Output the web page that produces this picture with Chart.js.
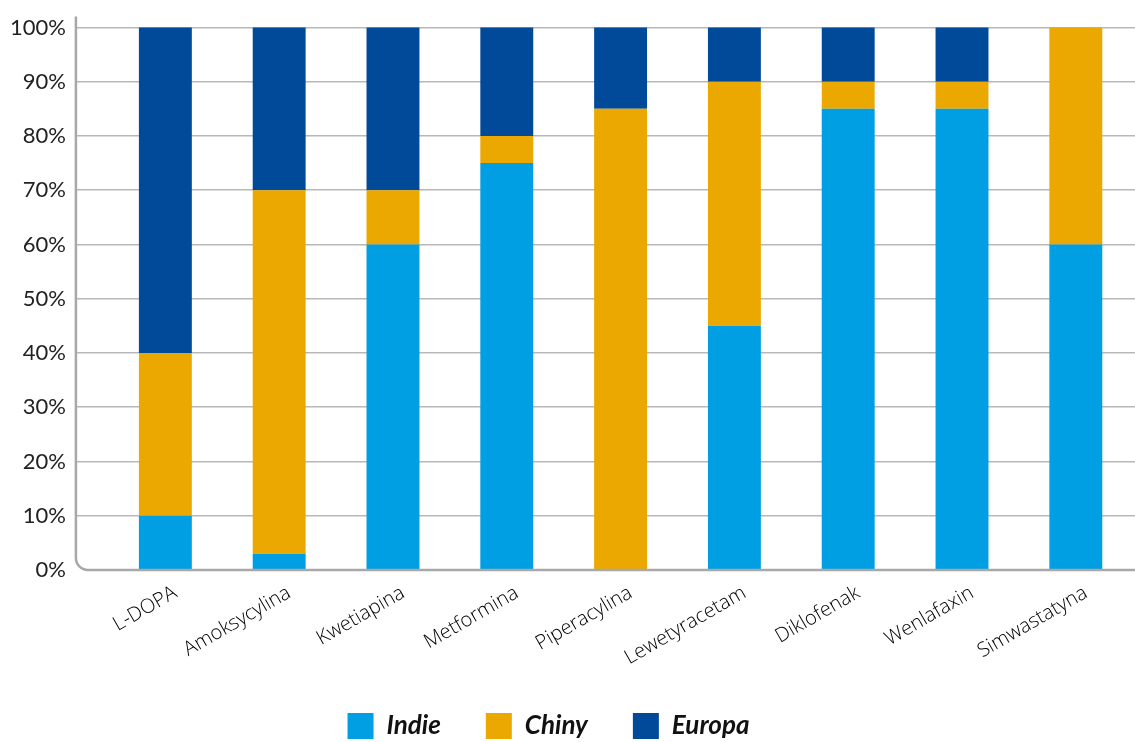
<!DOCTYPE html>
<html>
<head>
<meta charset="utf-8">
<script src="https://cdn.jsdelivr.net/npm/chart.js@4"></script>
<style>
  html, body { margin: 0; padding: 0; background: #fff; }
  #wrap { width: 1135px; height: 742px; }
</style>
</head>
<body>
<div id="wrap"><canvas id="c" width="1135" height="742"></canvas></div>
<script>
// kategorie (substancje)
const categories = [
  "L-DOPA", "Amoksycylina", "Kwetiapina", "Metformina", "Piperacylina",
  "Lewetyracetam", "Diklofenak", "Wenlafaxin", "Simwastatyna",
];

// udział (%) wg regionu
const indie  = [10, 3, 60, 75, 0, 45, 85, 85, 60];
const chiny  = [30, 67, 10, 5, 85, 45, 5, 5, 40];
const europa = [60, 30, 30, 20, 15, 10, 10, 10, 0];

const seriesNames = ["Indie", "Chiny", "Europa"];
const yTicks = [0, 10, 20, 30, 40, 50, 60, 70, 80, 90, 100];

const colors = ["#009fe3", "#eaa800", "#004a99"];

const toPoints = (arr) => arr.map((v, i) => ({ x: i, y: v }));

const datasets = [indie, chiny, europa].map((arr, k) => ({
  label: seriesNames[k],
  data: toPoints(arr),
  backgroundColor: colors[k],
  borderWidth: 0,
  barPercentage: 0.465,
  categoryPercentage: 1,
}));

const LEGEND_PAD = 45;
const LEGEND_SHIFT = -19; // legenda lekko w lewo od środka

// osie szare z zaokrąglonym narożnikiem (lewy dolny)
const roundedAxes = {
  id: "roundedAxes",
  afterLayout(chart) {
    if (chart.legend) {
      chart.legend.left += LEGEND_SHIFT;
      chart.legend.right += LEGEND_SHIFT;
    }
  },
  afterDatasetsDraw(chart) {
    const { ctx, chartArea: a } = chart;
    const r = 12;
    ctx.save();
    ctx.strokeStyle = "#a8a8a8";
    ctx.lineWidth = 2.5;
    ctx.beginPath();
    ctx.moveTo(a.left, a.top);
    ctx.lineTo(a.left, a.bottom - r);
    ctx.arcTo(a.left, a.bottom, a.left + r, a.bottom, r);
    ctx.lineTo(a.right, a.bottom);
    ctx.stroke();
    ctx.restore();
  },
};

new Chart(document.getElementById("c"), {
  type: "bar",
  data: { datasets },
  plugins: [roundedAxes],
  options: {
    responsive: false,
    animation: false,
    layout: {
      padding: { left: 0, right: 0, top: 12, bottom: -7 },
    },
    plugins: {
      tooltip: { enabled: false },
      legend: {
        position: "bottom",
        labels: {
          boxWidth: 26,
          boxHeight: 26,
          padding: LEGEND_PAD,
          color: "#111",
          font: { family: "Lato", size: 26, weight: "bold", style: "italic" },
        },
      },
    },
    scales: {
      x: {
        type: "linear",
        stacked: true,
        offset: false,
        min: -0.786,
        max: 8.52,
        afterBuildTicks: (s) => {
          s.ticks = categories.map((_, i) => ({ value: i }));
        },
        afterFit: (s) => {
          s.height = 98;
        },
        grid: { display: false },
        border: { display: false },
        ticks: {
          autoSkip: false,
          minRotation: 30,
          maxRotation: 30,
          padding: 3,
          labelOffset: 10,
          color: "#000",
          font: { family: "Open Sans", size: 20, weight: "300" },
          callback: (v) => categories[v] ?? "",
        },
      },
      y: {
        stacked: true,
        min: 0,
        max: 102,
        afterBuildTicks: (s) => {
          s.ticks = yTicks.map((v) => ({ value: v }));
        },
        grid: {
          drawTicks: false,
          color: (ctx) => (ctx.tick && ctx.tick.value === 0 ? "rgba(0,0,0,0)" : "#b8b8b8"),
          lineWidth: 1.5,
        },
        border: { display: false },
        ticks: {
          padding: 10,
          color: "#222",
          font: { family: "Lato", size: 22, lineHeight: 0.6 },
          callback: (v) => v + "%",
        },
      },
    },
  },
});
</script>
</body>
</html>
